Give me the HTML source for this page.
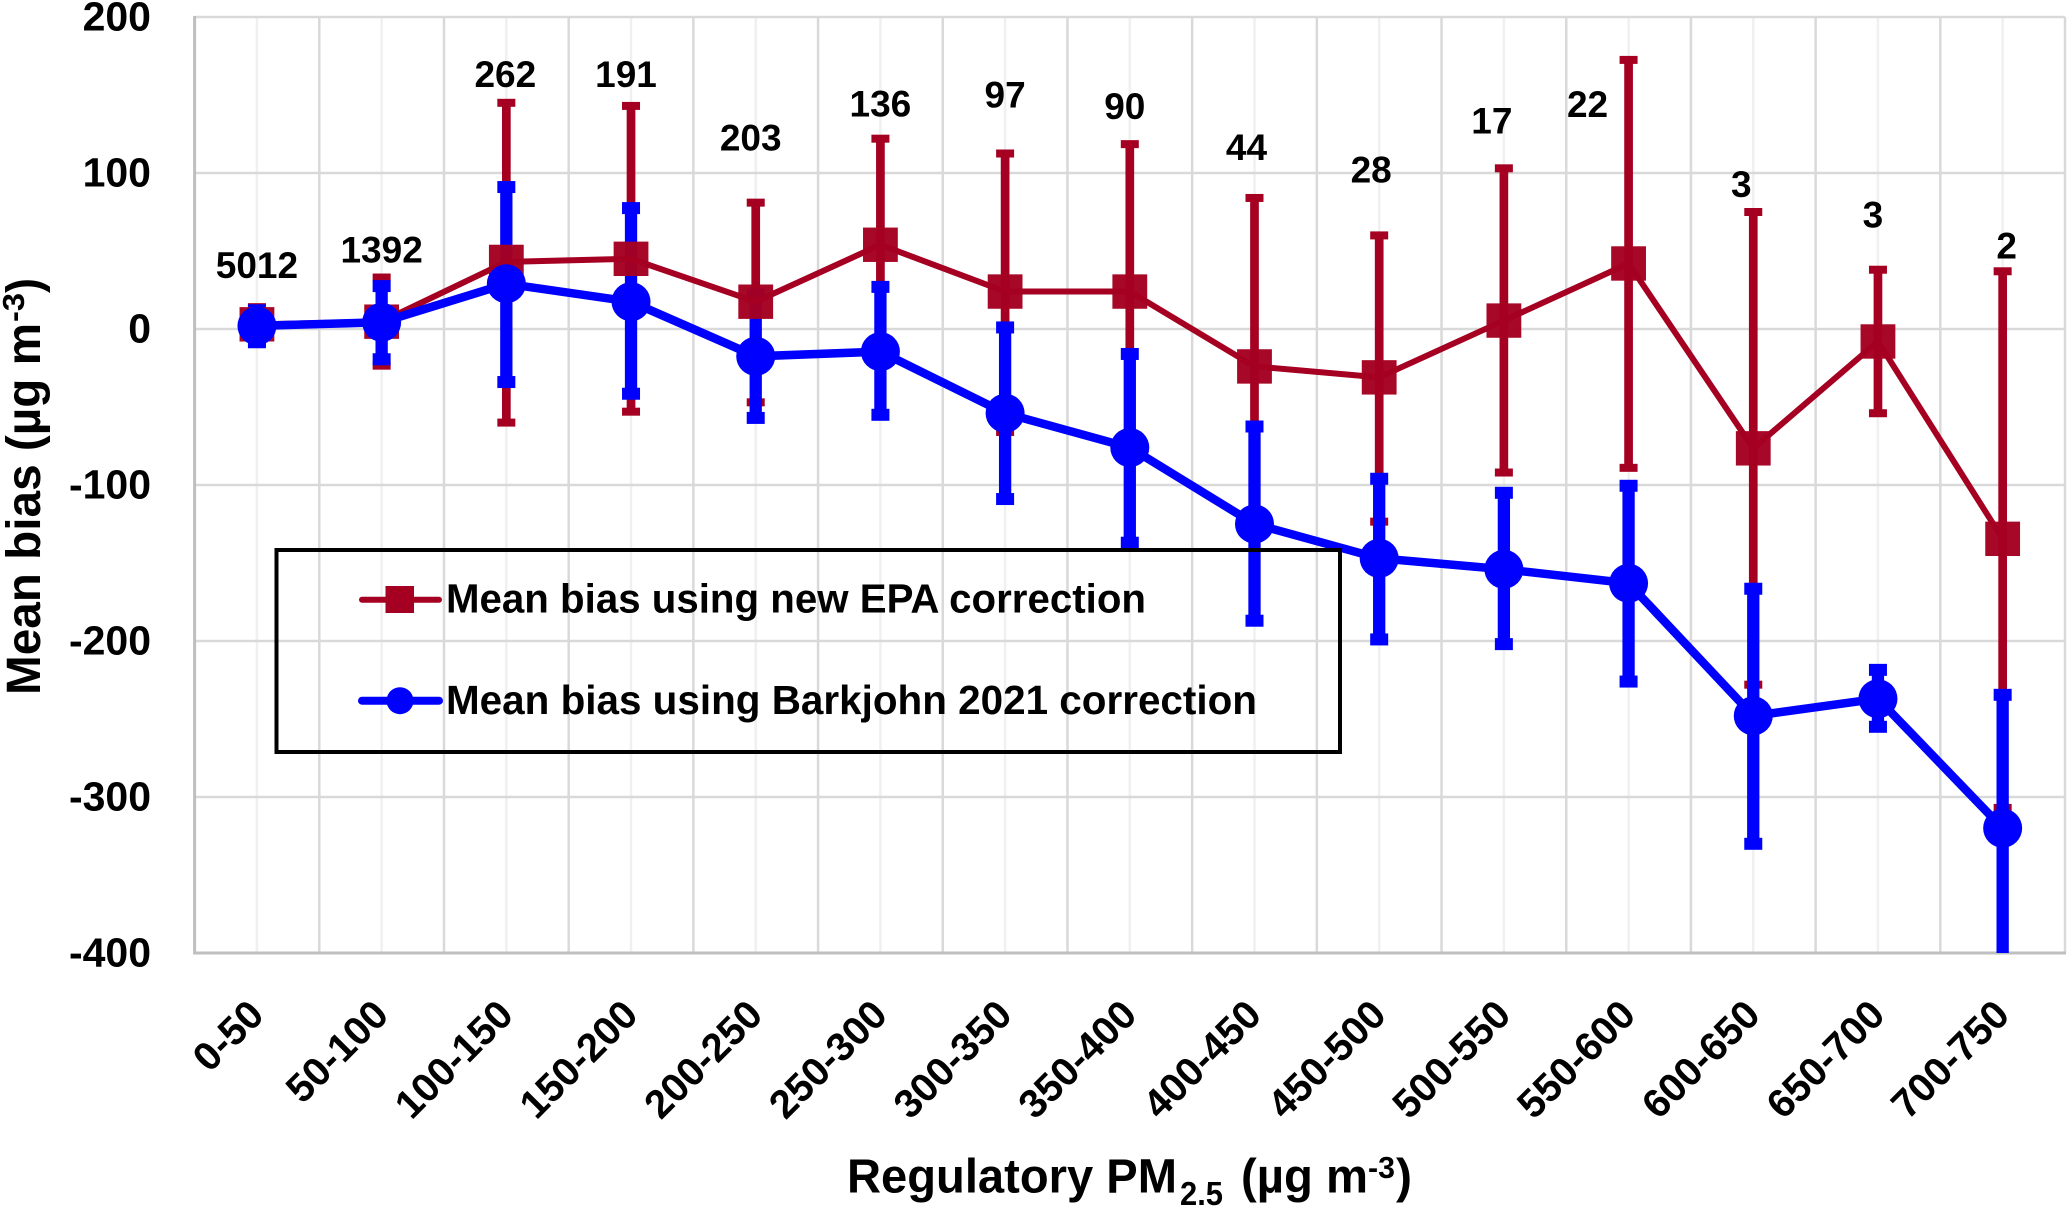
<!DOCTYPE html>
<html lang="en">
<head>
<meta charset="utf-8">
<title>Mean bias by regulatory PM2.5 bin</title>
<style>
html,body{margin:0;padding:0;background:#fff;}
svg{display:block;}
text{font-family:"Liberation Sans",sans-serif;font-weight:700;fill:#000;}
</style>
</head>
<body>
<svg id="chart" xmlns="http://www.w3.org/2000/svg" width="2067" height="1207" viewBox="0 0 2067 1207">
  <defs>
    <clipPath id="plot-clip"><rect x="194" y="10" width="1873" height="943"/></clipPath>
  </defs>
  <rect x="0" y="0" width="2067" height="1207" fill="#fff"/>
  <g id="grid"></g>
  <g id="y-ticks"></g>
  <g id="x-ticks"></g>
  <g id="red-errors" clip-path="url(#plot-clip)"></g>
  <g id="blue-errors" clip-path="url(#plot-clip)"></g>
  <g id="red-series"></g>
  <g id="blue-series"></g>
  <g id="counts"></g>

  <g>
    <text transform="translate(40 695) rotate(-90)" font-size="48" textLength="372" lengthAdjust="spacingAndGlyphs">Mean bias (µg m</text>
    <text transform="translate(24 322) rotate(-90)" font-size="31" textLength="29" lengthAdjust="spacingAndGlyphs">-3</text>
    <text transform="translate(40 293) rotate(-90)" font-size="48" textLength="15" lengthAdjust="spacingAndGlyphs">)</text>
  </g>
  <g>
    <text x="847" y="1192.5" font-size="48" textLength="330" lengthAdjust="spacingAndGlyphs">Regulatory PM</text>
    <text x="1180" y="1205" font-size="33" textLength="43" lengthAdjust="spacingAndGlyphs">2.5</text>
    <text x="1241" y="1192.5" font-size="48" textLength="127" lengthAdjust="spacingAndGlyphs">(µg m</text>
    <text x="1368" y="1178" font-size="31" textLength="27" lengthAdjust="spacingAndGlyphs">-3</text>
    <text x="1396" y="1192.5" font-size="48" textLength="16" lengthAdjust="spacingAndGlyphs">)</text>
  </g>

  <g>
    <rect x="276.5" y="550" width="1063.5" height="202" fill="none" stroke="#000" stroke-width="4"/>
    <g>
      <line x1="362" y1="599.7" x2="439" y2="599.7" stroke="#A50021" stroke-width="6" stroke-linecap="round"/>
      <rect x="385.5" y="586" width="28.5" height="27" fill="#A50021"/>
      <text x="446" y="612.7" font-size="41" textLength="700" lengthAdjust="spacingAndGlyphs">Mean bias using new EPA correction</text>
    </g>
    <g>
      <line x1="362" y1="700.7" x2="439" y2="700.7" stroke="#0000FF" stroke-width="8" stroke-linecap="round"/>
      <circle cx="400" cy="700.7" r="13.5" fill="#0000FF"/>
      <text x="446" y="714" font-size="41" textLength="811" lengthAdjust="spacingAndGlyphs">Mean bias using Barkjohn 2021 correction</text>
    </g>
  </g>
</svg>
<script>
const categories = ["0-50","50-100","100-150","150-200","200-250","250-300","300-350","350-400","400-450","450-500","500-550","550-600","600-650","650-700","700-750"];
const sampleCounts = [5012,1392,262,191,203,136,97,90,44,28,17,22,3,3,2];
const epaMean = [3,4.7,43,45,17.5,54,24,24,-24,-31,5.4,42,-76.5,-8,-134.5];
const epaUpper = [14,33,145,143,81,122,112.5,118.5,84,60,103,172.5,75,38,37];
const epaLower = [-8,-23.5,-60,-53,-47,-14,-66,-70,-132,-123.5,-92,-89,-228,-54,-307];
const barkjohnMean = [2,4.3,29,17.5,-17.5,-14.5,-54,-76,-125,-147,-154,-163,-248,-237,-320];
const barkjohnUpper = [12,27.5,91,77.5,22,27,1,-16,-62.5,-96,-105,-100.5,-166.5,-218.5,-234.5];
const barkjohnLower = [-8.5,-19.4,-34,-41.5,-57,-55,-109,-137,-187,-199,-202,-226,-330,-255,-410];
const yTickValues = [200,100,0,-100,-200,-300,-400];
const countLabelDx = [0,0,-1,-5,-5,0,0,-5,-8,-8,-12,-41,-12,-5,4];
const countLabelDy = [-29,-15,-16,-19,-52,-22,-46,-25,-38,-53,-35,57,-15,-42,-13];

const plotLeft = 194.6;
const plotRight = 2065;
const plotTop = 17;
const plotBottom = 953;
const yMax = 200;
const yMin = -400;
const NS = 'http://www.w3.org/2000/svg';

function xPos(i){ return plotLeft + (plotRight - plotLeft) * (i + 0.5) / categories.length; }
function xEdge(i){ return plotLeft + (plotRight - plotLeft) * i / categories.length; }
function yPos(v){ return plotTop + (yMax - v) * (plotBottom - plotTop) / (yMax - yMin); }
function make(tag, attrs, parent){
  const el = document.createElementNS(NS, tag);
  for (const k in attrs) el.setAttribute(k, attrs[k]);
  parent.appendChild(el);
  return el;
}

const grid = document.getElementById('grid');
for (let i = 0; i < categories.length; i++) {
  const minor = make('line', {x1:xPos(i), x2:xPos(i), y1:plotTop, y2:plotBottom, stroke:'#F0F0F0', 'stroke-width':2.5}, grid);
  
  
}
for (let i = 1; i <= categories.length; i++) {
  const major = make('line', {x1:xEdge(i), x2:xEdge(i), y1:plotTop, y2:plotBottom, stroke:'#D9D9D9', 'stroke-width':2.5}, grid);
  
  
}
yTickValues.forEach(function(v){
  if (v === yMin) return;
  const h = make('line', {x1:plotLeft, x2:plotRight, y1:yPos(v), y2:yPos(v), stroke:'#D9D9D9', 'stroke-width':2.5}, grid);
  
  
});
const yAxisLine = make('line', {x1:plotLeft, x2:plotLeft, y1:plotTop - 1, y2:plotBottom + 1.5, stroke:'#BFBFBF', 'stroke-width':3}, grid);


const xAxisLine = make('line', {x1:plotLeft, x2:plotRight + 1, y1:plotBottom, y2:plotBottom, stroke:'#BFBFBF', 'stroke-width':3}, grid);



const yTicks = document.getElementById('y-ticks');
yTickValues.forEach(function(v){
  const t = make('text', {x:151, y:yPos(v) + 13.5, 'font-size':41, 'text-anchor':'end'}, yTicks);
  t.textContent = String(v);
  
  
});

const xTicks = document.getElementById('x-ticks');
categories.forEach(function(c, i){
  const ax = xPos(i) + 9;
  const t = make('text', {transform:'translate(' + ax + ' 1017) rotate(-45)', 'font-size':40, 'text-anchor':'end'}, xTicks);
  t.textContent = c;
  
  
});

function drawErrors(group, upper, lower, color, barW, capW, capH, label){
  categories.forEach(function(c, i){
    const top = yPos(upper[i]);
    const bot = yPos(lower[i]);
    const bar = make('rect', {x:xPos(i) - barW / 2, y:top, width:barW, height:bot - top, fill:color}, group);
    
    
    const capTop = make('rect', {x:xPos(i) - capW / 2, y:top - capH / 2, width:capW, height:capH, fill:color}, group);
    
    
    const capBot = make('rect', {x:xPos(i) - capW / 2, y:bot - capH / 2, width:capW, height:capH, fill:color}, group);
    
    
  });
}
drawErrors(document.getElementById('red-errors'), epaUpper, epaLower, '#A50021', 8.7, 18, 8, 'epa');
drawErrors(document.getElementById('blue-errors'), barkjohnUpper, barkjohnLower, '#0000FF', 12.3, 18, 12, 'barkjohn');

function linePoints(values){
  return values.map(function(v, i){ return xPos(i) + ',' + yPos(v); }).join(' ');
}

const redGroup = document.getElementById('red-series');
const redLine = make('polyline', {points:linePoints(epaMean), fill:'none', stroke:'#A50021', 'stroke-width':6, 'stroke-linejoin':'round'}, redGroup);


epaMean.forEach(function(v, i){
  const m = make('rect', {x:xPos(i) - 17.4, y:yPos(v) - 17.2, width:34.8, height:34.4, fill:'#A50021', 'fill-opacity':0.97}, redGroup);
  
  
});

const blueGroup = document.getElementById('blue-series');
const blueLine = make('polyline', {points:linePoints(barkjohnMean), fill:'none', stroke:'#0000FF', 'stroke-width':8.5, 'stroke-linejoin':'round'}, blueGroup);


barkjohnMean.forEach(function(v, i){
  const m = make('circle', {cx:xPos(i), cy:yPos(v), r:19.5, fill:'#0000FF'}, blueGroup);
  
  
});

const countGroup = document.getElementById('counts');
sampleCounts.forEach(function(n, i){
  const t = make('text', {x:xPos(i) + countLabelDx[i], y:yPos(epaUpper[i]) + countLabelDy[i], 'font-size':37, 'text-anchor':'middle'}, countGroup);
  t.textContent = String(n);
  
  
});
</script>
</body>
</html>
